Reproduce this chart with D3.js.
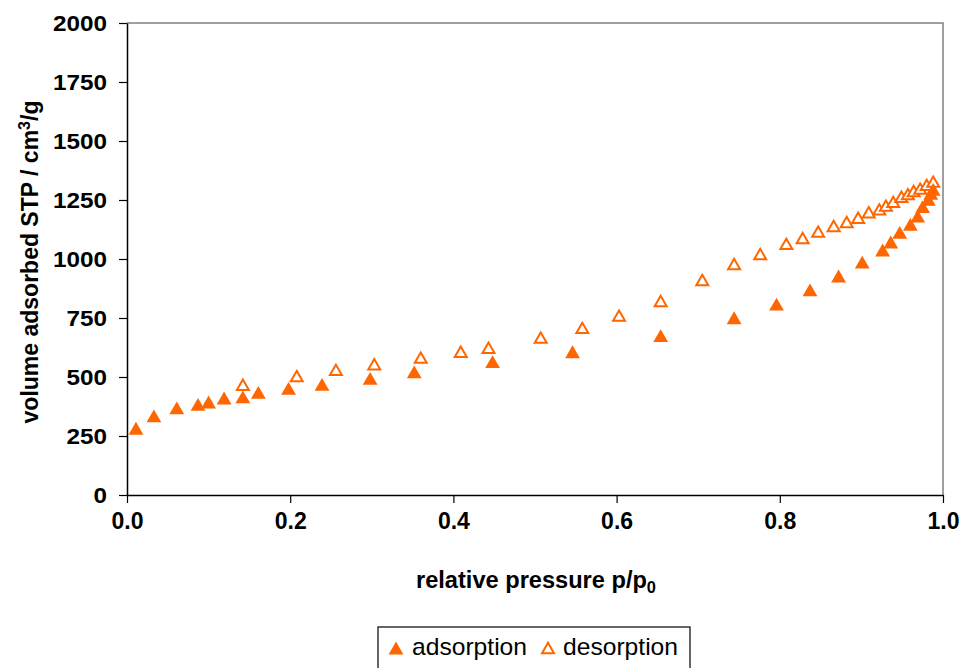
<!DOCTYPE html>
<html>
<head>
<meta charset="utf-8">
<script src="https://cdn.jsdelivr.net/npm/d3@7"></script>
<style>
  html, body { margin: 0; padding: 0; background: #fff; }
  svg { display: block; }
  text { font-family: "Liberation Sans", Arial, sans-serif; fill: #000; }
</style>
</head>
<body>
<svg id="chart" width="965" height="668"></svg>
<script>
// Nitrogen sorption isotherm: relative pressure vs. adsorbed volume
const adsorptionP = [0.011, 0.033, 0.061, 0.087, 0.100, 0.119, 0.142, 0.161, 0.198, 0.239, 0.298, 0.352, 0.448, 0.546, 0.654, 0.744, 0.796, 0.837, 0.872, 0.901, 0.926, 0.936, 0.947, 0.960, 0.969, 0.975, 0.982, 0.985, 0.988];
const adsorptionV = [283, 335, 369, 384, 394, 411, 416, 435, 452, 469, 494, 522, 565, 607, 675, 751, 809, 869, 928, 987, 1038, 1072, 1113, 1147, 1182, 1222, 1253, 1278, 1295];

const desorptionP = [0.142, 0.208, 0.256, 0.303, 0.360, 0.409, 0.443, 0.507, 0.558, 0.603, 0.654, 0.705, 0.744, 0.776, 0.808, 0.828, 0.847, 0.866, 0.882, 0.896, 0.909, 0.922, 0.930, 0.939, 0.949, 0.957, 0.964, 0.972, 0.980, 0.988];
const desorptionV = [467, 504, 530, 554, 582, 607, 624, 667, 708, 760, 822, 911, 979, 1021, 1064, 1089, 1116, 1140, 1157, 1175, 1198, 1210, 1226, 1242, 1264, 1275, 1288, 1298, 1314, 1328];

const xTicks = [0, 0.2, 0.4, 0.6, 0.8, 1.0];
const yTicks = [0, 250, 500, 750, 1000, 1250, 1500, 1750, 2000];

const seriesNames = ["adsorption", "desorption"];
const orange = "#FF6600";

const svg = d3.select("#chart");
const plot = { left: 127, right: 943, top: 23, bottom: 495 };

const x = d3.scaleLinear().domain([0, 1]).range([plot.left, plot.right]);
const y = d3.scaleLinear().domain([0, 2000]).range([plot.bottom, plot.top]);

// triangle marker centred on its bounding box
const triangle = {
  draw(ctx, size) {
    const s = Math.sqrt(size * 4 / Math.sqrt(3));
    const h = s * Math.sqrt(3) / 2;
    ctx.moveTo(0, -h / 2);
    ctx.lineTo(s / 2, h / 2);
    ctx.lineTo(-s / 2, h / 2);
    ctx.closePath();
  }
};
const filledSym = d3.symbol().type(triangle).size(95);
const openSym = d3.symbol().type(triangle).size(62);

// plot frame (grey top and right edges)
svg.append("path")
  .attr("d", `M${plot.left},${plot.top}H${plot.right}V${plot.bottom}`)
  .attr("fill", "none").attr("stroke", "#808080").attr("stroke-width", 1.5);

// y axis
const yAxis = svg.append("g").attr("transform", `translate(${plot.left},0)`)
  .call(d3.axisLeft(y).tickValues(yTicks).tickSize(8).tickSizeOuter(0).tickFormat(d3.format("d")));
yAxis.select(".domain").attr("stroke", "#000").attr("stroke-width", 1.5);
yAxis.selectAll(".tick line").attr("stroke", "#000").attr("stroke-width", 1.2);
yAxis.selectAll(".tick text")
  .attr("x", -20).attr("dy", "0.36em")
  .style("font-size", "22px").style("font-weight", "bold")
  .attr("textLength", d => String(d).length * 13.5).attr("lengthAdjust", "spacingAndGlyphs");

// x axis
const xAxis = svg.append("g").attr("transform", `translate(0,${plot.bottom})`)
  .call(d3.axisBottom(x).tickValues(xTicks).tickSize(8).tickSizeOuter(0).tickFormat(d3.format(".1f")));
xAxis.select(".domain").attr("stroke", "#000").attr("stroke-width", 1.5);
xAxis.selectAll(".tick line").attr("stroke", "#000").attr("stroke-width", 1.2);
xAxis.selectAll(".tick text")
  .attr("y", 17).attr("dy", "0.71em")
  .style("font-size", "24px").style("font-weight", "bold")
  .attr("textLength", 32).attr("lengthAdjust", "spacingAndGlyphs");
svg.selectAll(".tick text").style("font-family", '"Liberation Sans", Arial, sans-serif').attr("fill", "#000");

// axis titles
const xt = svg.append("text")
  .attr("x", (plot.left + plot.right) / 2 + 1).attr("y", 588)
  .attr("text-anchor", "middle")
  .style("font-size", "23px").style("font-weight", "bold")
  .attr("textLength", 240).attr("lengthAdjust", "spacingAndGlyphs");
xt.append("tspan").text("relative pressure p/p");
xt.append("tspan").attr("dy", 5).style("font-size", "16px").text("0");

const yt = svg.append("text")
  .attr("transform", `translate(38,${(plot.top + plot.bottom) / 2 + 3}) rotate(-90)`)
  .attr("text-anchor", "middle")
  .style("font-size", "23px").style("font-weight", "bold");
yt.append("tspan").text("volume adsorbed STP / cm");
yt.append("tspan").attr("dy", -8).style("font-size", "16px").text("3");
yt.append("tspan").attr("dy", 8).text("/g");

// data markers
const ads = adsorptionP.map((p, i) => ({ p, v: adsorptionV[i] }));
const des = desorptionP.map((p, i) => ({ p, v: desorptionV[i] }));

svg.append("g").selectAll("path").data(des).join("path")
  .attr("transform", d => `translate(${x(d.p)},${y(d.v)})`)
  .attr("d", openSym)
  .attr("fill", "#fff").attr("stroke", orange).attr("stroke-width", 2);

svg.append("g").selectAll("path").data(ads).join("path")
  .attr("transform", d => `translate(${x(d.p)},${y(d.v)})`)
  .attr("d", filledSym)
  .attr("fill", orange);

// legend
const legend = svg.append("g");
legend.append("rect")
  .attr("x", 378).attr("y", 627).attr("width", 312).attr("height", 60)
  .attr("fill", "#fff").attr("stroke", "#000").attr("stroke-width", 1.2);

const legendItems = [
  { name: seriesNames[0], sym: filledSym, fill: orange, stroke: "none", mx: 396, tx: 412 },
  { name: seriesNames[1], sym: openSym, fill: "#fff", stroke: orange, mx: 548, tx: 563 }
];
legendItems.forEach(it => {
  legend.append("path")
    .attr("transform", `translate(${it.mx},${648})`)
    .attr("d", it.sym)
    .attr("fill", it.fill).attr("stroke", it.stroke).attr("stroke-width", 2);
  legend.append("text")
    .attr("x", it.tx).attr("y", 655)
    .style("font-size", "24px")
    .attr("textLength", 115).attr("lengthAdjust", "spacingAndGlyphs")
    .text(it.name);
});
</script>
</body>
</html>
